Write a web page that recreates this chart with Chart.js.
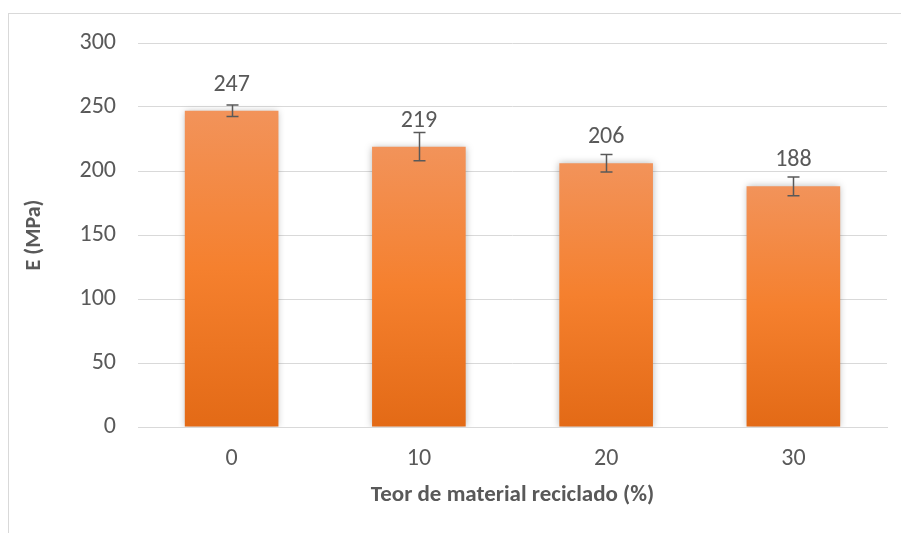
<!DOCTYPE html>
<html>
<head>
<meta charset="utf-8">
<script src="https://cdn.jsdelivr.net/npm/chart.js@4/dist/chart.umd.min.js"></script>
<style>
  html, body { margin: 0; padding: 0; background: #fff; }
  #wrap { position: relative; width: 901px; height: 533px; overflow: hidden; }
  #frame { position: absolute; left: 8px; top: 13px; width: 960px; height: 600px; border: 1px solid #d9d9d9; box-sizing: border-box; }
  canvas { position: absolute; left: 0; top: 0; }
</style>
</head>
<body>
<div id="wrap">
  <div id="frame"></div>
  <canvas id="c" width="901" height="533"></canvas>
</div>
<script>
const categories = ['0', '10', '20', '30'];
const values = [247, 219, 206, 188];
const errors = [4.5, 11, 6.8, 7.3];
const yTicks = [0, 50, 100, 150, 200, 250, 300];

const FONT = 'Carlito, Calibri, Lato, sans-serif';
const TXT = '#595959';

const barGradient = (ctx) => {
  const chart = ctx.chart;
  const ys = chart.scales.y;
  if (!ys || ctx.raw === undefined) return '#F47F2C';
  const top = ys.getPixelForValue(ctx.raw);
  const bot = ys.getPixelForValue(0);
  if (!isFinite(top) || !isFinite(bot) || top === bot) return '#F47F2C';
  const g = chart.ctx.createLinearGradient(0, top, 0, bot);
  g.addColorStop(0, '#F2935A');
  g.addColorStop(0.5, '#F5802E');
  g.addColorStop(1, '#E36A16');
  return g;
};

const extras = {
  id: 'extras',
  beforeDatasetDraw(chart) {
    const c = chart.ctx;
    c.save();
    c.shadowColor = 'rgba(0,0,0,0.28)';
    c.shadowBlur = 7;
    c.shadowOffsetX = 0;
    c.shadowOffsetY = 0;
  },
  afterDatasetDraw(chart) {
    chart.ctx.restore();
  },
  afterDatasetsDraw(chart) {
    const c = chart.ctx;
    const meta = chart.getDatasetMeta(0);
    const ys = chart.scales.y;
    c.save();
    c.strokeStyle = '#595959';
    c.lineWidth = 1.5;
    meta.data.forEach((bar, i) => {
      const x = Math.round(bar.x) + 0.5;
      const yHi = ys.getPixelForValue(values[i] + errors[i]);
      const yLo = ys.getPixelForValue(values[i] - errors[i]);
      c.beginPath();
      c.moveTo(x, yHi); c.lineTo(x, yLo);
      c.moveTo(x - 6, yHi); c.lineTo(x + 6, yHi);
      c.moveTo(x - 6, yLo); c.lineTo(x + 6, yLo);
      c.stroke();
    });
    c.fillStyle = TXT;
    c.font = '24px ' + FONT;
    c.textAlign = 'center';
    c.textBaseline = 'middle';
    meta.data.forEach((bar, i) => {
      c.fillText(String(values[i]), bar.x, bar.y - 26);
    });
    c.restore();
  }
};

new Chart(document.getElementById('c'), {
  type: 'bar',
  data: {
    labels: categories,
    datasets: [{
      data: values,
      backgroundColor: barGradient,
      borderWidth: 0,
      categoryPercentage: 1,
      barPercentage: 0.5
    }]
  },
  options: {
    responsive: false,
    animation: false,
    devicePixelRatio: 1,
    layout: { padding: { left: 0, right: 14, top: 43, bottom: 0 } },
    plugins: { legend: { display: false }, tooltip: { enabled: false } },
    scales: {
      x: {
        grid: { display: false, drawTicks: false },
        border: { display: true, color: '#d9d9d9', width: 1 },
        ticks: { color: TXT, font: { family: FONT, size: 24 }, padding: 18 },
        title: {
          display: true, text: 'Teor de material reciclado (%)', color: TXT,
          font: { family: FONT, size: 23, weight: 'bold' }, padding: { top: 0, bottom: 24 }
        },
        afterFit(s) { s.height = 106; }
      },
      y: {
        min: 0, max: 300,
        afterBuildTicks(s) { s.ticks = yTicks.map(v => ({ value: v })); },
        grid: { color: '#d9d9d9', lineWidth: 1, drawTicks: false },
        border: { display: false },
        ticks: { color: TXT, font: { family: FONT, size: 24 }, padding: 22 },
        title: {
          display: true, text: 'E (MPa)', color: TXT,
          font: { family: FONT, size: 22, weight: 'bold' }, padding: { top: 21, bottom: 0 }
        },
        afterFit(s) { s.width = 138; }
      }
    }
  },
  plugins: [extras]
});
</script>
</body>
</html>
